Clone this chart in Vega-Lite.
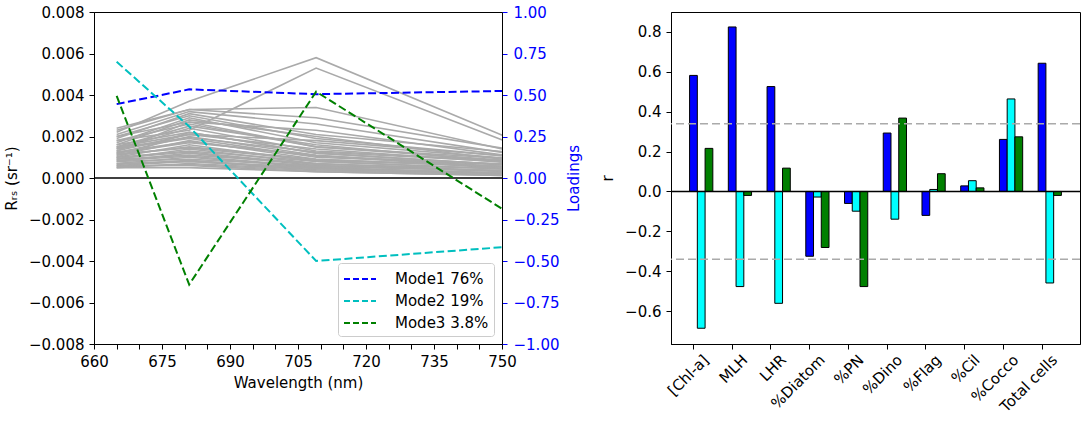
{
  "$schema": "https://vega.github.io/schema/vega-lite/v6.json",
  "padding": {"left": 3, "top": 4, "right": 5, "bottom": 0},
  "background": "white",
  "config": {
    "font": "DejaVu Sans",
    "view": {"stroke": "black", "strokeWidth": 1},
    "axis": {
      "grid": false,
      "labelFontSize": 15,
      "titleFontSize": 15,
      "titleFontWeight": "normal",
      "labelColor": "black",
      "titleColor": "black",
      "domainColor": "black",
      "tickColor": "black",
      "tickSize": 5,
      "labelPadding": 5,
      "titlePadding": 9,
      "labelOverlap": false
    }
  },
  "datasets": {
    "spectra": [
      {"s": 1, "wl": 665, "r": 0.0022}, {"s": 1, "wl": 681, "r": 0.0037}, {"s": 1, "wl": 709, "r": 0.0058}, {"s": 1, "wl": 754, "r": 0.0017},
      {"s": 2, "wl": 665, "r": 0.0018}, {"s": 2, "wl": 681, "r": 0.0023}, {"s": 2, "wl": 709, "r": 0.0053}, {"s": 2, "wl": 754, "r": 0.0015},
      {"s": 3, "wl": 665, "r": 0.0023}, {"s": 3, "wl": 681, "r": 0.0033}, {"s": 3, "wl": 709, "r": 0.0034}, {"s": 3, "wl": 754, "r": 0.0012},
      {"s": 4, "wl": 665, "r": 0.0024}, {"s": 4, "wl": 681, "r": 0.0033}, {"s": 4, "wl": 709, "r": 0.0029}, {"s": 4, "wl": 754, "r": 0.0013},
      {"s": 5, "wl": 665, "r": 0.0021}, {"s": 5, "wl": 681, "r": 0.0032}, {"s": 5, "wl": 709, "r": 0.0026}, {"s": 5, "wl": 754, "r": 0.0011},
      {"s": 6, "wl": 665, "r": 0.0019}, {"s": 6, "wl": 681, "r": 0.0031}, {"s": 6, "wl": 709, "r": 0.0021}, {"s": 6, "wl": 754, "r": 0.0012},
      {"s": 7, "wl": 665, "r": 0.0020}, {"s": 7, "wl": 681, "r": 0.0030}, {"s": 7, "wl": 709, "r": 0.0019}, {"s": 7, "wl": 754, "r": 0.0010},
      {"s": 8, "wl": 665, "r": 0.0017}, {"s": 8, "wl": 681, "r": 0.0029}, {"s": 8, "wl": 709, "r": 0.0017}, {"s": 8, "wl": 754, "r": 0.0009},
      {"s": 9, "wl": 665, "r": 0.0016}, {"s": 9, "wl": 681, "r": 0.0028}, {"s": 9, "wl": 709, "r": 0.0020}, {"s": 9, "wl": 754, "r": 0.0008},
      {"s": 10, "wl": 665, "r": 0.0018}, {"s": 10, "wl": 681, "r": 0.0026}, {"s": 10, "wl": 709, "r": 0.0015}, {"s": 10, "wl": 754, "r": 0.0009},
      {"s": 11, "wl": 665, "r": 0.0015}, {"s": 11, "wl": 681, "r": 0.0025}, {"s": 11, "wl": 709, "r": 0.0016}, {"s": 11, "wl": 754, "r": 0.0007},
      {"s": 12, "wl": 665, "r": 0.0014}, {"s": 12, "wl": 681, "r": 0.0024}, {"s": 12, "wl": 709, "r": 0.0013}, {"s": 12, "wl": 754, "r": 0.0008},
      {"s": 13, "wl": 665, "r": 0.0016}, {"s": 13, "wl": 681, "r": 0.0022}, {"s": 13, "wl": 709, "r": 0.0012}, {"s": 13, "wl": 754, "r": 0.0006},
      {"s": 14, "wl": 665, "r": 0.0013}, {"s": 14, "wl": 681, "r": 0.0021}, {"s": 14, "wl": 709, "r": 0.0014}, {"s": 14, "wl": 754, "r": 0.0007},
      {"s": 15, "wl": 665, "r": 0.0012}, {"s": 15, "wl": 681, "r": 0.0020}, {"s": 15, "wl": 709, "r": 0.0011}, {"s": 15, "wl": 754, "r": 0.0005},
      {"s": 16, "wl": 665, "r": 0.0014}, {"s": 16, "wl": 681, "r": 0.0019}, {"s": 16, "wl": 709, "r": 0.0010}, {"s": 16, "wl": 754, "r": 0.0006},
      {"s": 17, "wl": 665, "r": 0.0011}, {"s": 17, "wl": 681, "r": 0.0018}, {"s": 17, "wl": 709, "r": 0.0009}, {"s": 17, "wl": 754, "r": 0.0005},
      {"s": 18, "wl": 665, "r": 0.0012}, {"s": 18, "wl": 681, "r": 0.0017}, {"s": 18, "wl": 709, "r": 0.0011}, {"s": 18, "wl": 754, "r": 0.0004},
      {"s": 19, "wl": 665, "r": 0.0010}, {"s": 19, "wl": 681, "r": 0.0016}, {"s": 19, "wl": 709, "r": 0.0008}, {"s": 19, "wl": 754, "r": 0.0004},
      {"s": 20, "wl": 665, "r": 0.0011}, {"s": 20, "wl": 681, "r": 0.0015}, {"s": 20, "wl": 709, "r": 0.0009}, {"s": 20, "wl": 754, "r": 0.0005},
      {"s": 21, "wl": 665, "r": 0.0009}, {"s": 21, "wl": 681, "r": 0.0014}, {"s": 21, "wl": 709, "r": 0.0007}, {"s": 21, "wl": 754, "r": 0.0003},
      {"s": 22, "wl": 665, "r": 0.0010}, {"s": 22, "wl": 681, "r": 0.0013}, {"s": 22, "wl": 709, "r": 0.0008}, {"s": 22, "wl": 754, "r": 0.0004},
      {"s": 23, "wl": 665, "r": 0.0008}, {"s": 23, "wl": 681, "r": 0.0012}, {"s": 23, "wl": 709, "r": 0.0006}, {"s": 23, "wl": 754, "r": 0.0003},
      {"s": 24, "wl": 665, "r": 0.0009}, {"s": 24, "wl": 681, "r": 0.0011}, {"s": 24, "wl": 709, "r": 0.0007}, {"s": 24, "wl": 754, "r": 0.0003},
      {"s": 25, "wl": 665, "r": 0.0007}, {"s": 25, "wl": 681, "r": 0.0010}, {"s": 25, "wl": 709, "r": 0.0005}, {"s": 25, "wl": 754, "r": 0.0002},
      {"s": 26, "wl": 665, "r": 0.0008}, {"s": 26, "wl": 681, "r": 0.0009}, {"s": 26, "wl": 709, "r": 0.0006}, {"s": 26, "wl": 754, "r": 0.0003},
      {"s": 27, "wl": 665, "r": 0.0006}, {"s": 27, "wl": 681, "r": 0.0008}, {"s": 27, "wl": 709, "r": 0.0004}, {"s": 27, "wl": 754, "r": 0.0002},
      {"s": 28, "wl": 665, "r": 0.0007}, {"s": 28, "wl": 681, "r": 0.0008}, {"s": 28, "wl": 709, "r": 0.0005}, {"s": 28, "wl": 754, "r": 0.0002},
      {"s": 29, "wl": 665, "r": 0.0005}, {"s": 29, "wl": 681, "r": 0.0007}, {"s": 29, "wl": 709, "r": 0.0004}, {"s": 29, "wl": 754, "r": 0.0002},
      {"s": 30, "wl": 665, "r": 0.0006}, {"s": 30, "wl": 681, "r": 0.0006}, {"s": 30, "wl": 709, "r": 0.0003}, {"s": 30, "wl": 754, "r": 0.0001},
      {"s": 31, "wl": 665, "r": 0.0005}, {"s": 31, "wl": 681, "r": 0.0005}, {"s": 31, "wl": 709, "r": 0.0003}, {"s": 31, "wl": 754, "r": 0.0001},
      {"s": 32, "wl": 665, "r": 0.0015}, {"s": 32, "wl": 681, "r": 0.0021}, {"s": 32, "wl": 709, "r": 0.0018}, {"s": 32, "wl": 754, "r": 0.0010},
      {"s": 33, "wl": 665, "r": 0.0013}, {"s": 33, "wl": 681, "r": 0.0027}, {"s": 33, "wl": 709, "r": 0.0015}, {"s": 33, "wl": 754, "r": 0.0008},
      {"s": 34, "wl": 665, "r": 0.0010}, {"s": 34, "wl": 681, "r": 0.0022}, {"s": 34, "wl": 709, "r": 0.0012}, {"s": 34, "wl": 754, "r": 0.0006},
      {"s": 35, "wl": 665, "r": 0.0020}, {"s": 35, "wl": 681, "r": 0.0027}, {"s": 35, "wl": 709, "r": 0.0023}, {"s": 35, "wl": 754, "r": 0.0010},
      {"s": 36, "wl": 665, "r": 0.00055}, {"s": 36, "wl": 681, "r": 0.00065}, {"s": 36, "wl": 709, "r": 0.00035}, {"s": 36, "wl": 754, "r": 0.00015},
      {"s": 37, "wl": 665, "r": 0.00065}, {"s": 37, "wl": 681, "r": 0.00085}, {"s": 37, "wl": 709, "r": 0.00045}, {"s": 37, "wl": 754, "r": 0.00025},
      {"s": 38, "wl": 665, "r": 0.00085}, {"s": 38, "wl": 681, "r": 0.00105}, {"s": 38, "wl": 709, "r": 0.00055}, {"s": 38, "wl": 754, "r": 0.00035},
      {"s": 39, "wl": 665, "r": 0.00095}, {"s": 39, "wl": 681, "r": 0.00125}, {"s": 39, "wl": 709, "r": 0.00065}, {"s": 39, "wl": 754, "r": 0.00045},
      {"s": 40, "wl": 665, "r": 0.00115}, {"s": 40, "wl": 681, "r": 0.00145}, {"s": 40, "wl": 709, "r": 0.00085}, {"s": 40, "wl": 754, "r": 0.00055},
      {"s": 41, "wl": 665, "r": 0.00125}, {"s": 41, "wl": 681, "r": 0.00175}, {"s": 41, "wl": 709, "r": 0.00105}, {"s": 41, "wl": 754, "r": 0.00065},
      {"s": 42, "wl": 665, "r": 0.00145}, {"s": 42, "wl": 681, "r": 0.00195}, {"s": 42, "wl": 709, "r": 0.00125}, {"s": 42, "wl": 754, "r": 0.00075}
    ],
    "modes": [
      {"mode": "Mode1 76%", "wl": 665, "loading": 0.445},
      {"mode": "Mode1 76%", "wl": 681, "loading": 0.534},
      {"mode": "Mode1 76%", "wl": 709, "loading": 0.505},
      {"mode": "Mode1 76%", "wl": 754, "loading": 0.526},
      {"mode": "Mode2 19%", "wl": 665, "loading": 0.70},
      {"mode": "Mode2 19%", "wl": 681, "loading": 0.31},
      {"mode": "Mode2 19%", "wl": 709, "loading": -0.50},
      {"mode": "Mode2 19%", "wl": 754, "loading": -0.409},
      {"mode": "Mode3 3.8%", "wl": 665, "loading": 0.495},
      {"mode": "Mode3 3.8%", "wl": 681, "loading": -0.642},
      {"mode": "Mode3 3.8%", "wl": 709, "loading": 0.52},
      {"mode": "Mode3 3.8%", "wl": 754, "loading": -0.254}
    ],
    "corr": [
      {"var": "[Chl-a]", "mode": "Mode1", "r": 0.582},
      {"var": "[Chl-a]", "mode": "Mode2", "r": -0.686},
      {"var": "[Chl-a]", "mode": "Mode3", "r": 0.216},
      {"var": "MLH", "mode": "Mode1", "r": 0.825},
      {"var": "MLH", "mode": "Mode2", "r": -0.477},
      {"var": "MLH", "mode": "Mode3", "r": -0.02},
      {"var": "LHR", "mode": "Mode1", "r": 0.526},
      {"var": "LHR", "mode": "Mode2", "r": -0.561},
      {"var": "LHR", "mode": "Mode3", "r": 0.117},
      {"var": "%Diatom", "mode": "Mode1", "r": -0.325},
      {"var": "%Diatom", "mode": "Mode2", "r": -0.028},
      {"var": "%Diatom", "mode": "Mode3", "r": -0.281},
      {"var": "%PN", "mode": "Mode1", "r": -0.06},
      {"var": "%PN", "mode": "Mode2", "r": -0.099},
      {"var": "%PN", "mode": "Mode3", "r": -0.477},
      {"var": "%Dino", "mode": "Mode1", "r": 0.293},
      {"var": "%Dino", "mode": "Mode2", "r": -0.139},
      {"var": "%Dino", "mode": "Mode3", "r": 0.368},
      {"var": "%Flag", "mode": "Mode1", "r": -0.12},
      {"var": "%Flag", "mode": "Mode2", "r": 0.01},
      {"var": "%Flag", "mode": "Mode3", "r": 0.089},
      {"var": "%Cil", "mode": "Mode1", "r": 0.028},
      {"var": "%Cil", "mode": "Mode2", "r": 0.054},
      {"var": "%Cil", "mode": "Mode3", "r": 0.018},
      {"var": "%Cocco", "mode": "Mode1", "r": 0.261},
      {"var": "%Cocco", "mode": "Mode2", "r": 0.464},
      {"var": "%Cocco", "mode": "Mode3", "r": 0.274},
      {"var": "Total cells", "mode": "Mode1", "r": 0.643},
      {"var": "Total cells", "mode": "Mode2", "r": -0.459},
      {"var": "Total cells", "mode": "Mode3", "r": -0.02}
    ]
  },
  "spacing": 17,
  "resolve": {"scale": {"x": "independent", "y": "independent", "color": "independent"}, "legend": {"color": "independent"}},
  "hconcat": [
    {
      "width": 408,
      "height": 332,
      "layer": [
        {
          "layer": [
            {
              "data": {"name": "spectra"},
              "mark": {"type": "line", "color": "#aaaaaa", "strokeWidth": 1.6, "clip": true},
              "encoding": {
                "x": {
                  "field": "wl",
                  "type": "quantitative",
                  "scale": {"domain": [660, 750], "nice": false, "zero": false},
                  "axis": {
                    "title": "Wavelength (nm)",
                    "values": [660, 665, 670, 675, 680, 685, 690, 695, 700, 705, 710, 715, 720, 725, 730, 735, 740, 745, 750],
                    "labelExpr": "indexof([660, 675, 690, 705, 720, 735, 750], datum.value) >= 0 ? datum.label : ''",
                    "labelOverlap": false,
                    "labelFlush": false,
                    "titlePadding": 6
                  }
                },
                "y": {
                  "field": "r",
                  "type": "quantitative",
                  "scale": {"domain": [-0.008, 0.008], "nice": false},
                  "axis": {
                    "title": "Rᵣₛ (sr⁻¹)",
                    "values": [-0.008, -0.006, -0.004, -0.002, 0, 0.002, 0.004, 0.006, 0.008],
                    "format": ".3f"
                  }
                },
                "detail": {"field": "s", "type": "nominal"}
              }
            },
            {
              "data": {"values": [{"r": 0}]},
              "mark": {"type": "rule", "color": "black", "strokeWidth": 1.5},
              "encoding": {"y": {"field": "r", "type": "quantitative"}}
            }
          ]
        },
        {
          "data": {"name": "modes"},
          "mark": {"type": "line", "strokeWidth": 2, "strokeDash": [8, 3.5], "clip": true},
          "encoding": {
            "x": {
              "field": "wl",
              "type": "quantitative",
              "axis": {
                "title": "Wavelength (nm)",
                "values": [660, 665, 670, 675, 680, 685, 690, 695, 700, 705, 710, 715, 720, 725, 730, 735, 740, 745, 750],
                "labelExpr": "indexof([660, 675, 690, 705, 720, 735, 750], datum.value) >= 0 ? datum.label : ''",
                "labelOverlap": false,
                "labelFlush": false,
                "titlePadding": 6
              }
            },
            "y": {
              "field": "loading",
              "type": "quantitative",
              "scale": {"domain": [-1, 1], "nice": false},
              "axis": {
                "orient": "right",
                "title": "Loadings",
                "titleAngle": 270,
                "titleBaseline": "top",
                "titlePadding": 8,
                "labelPadding": 6,
                "values": [-1, -0.75, -0.5, -0.25, 0, 0.25, 0.5, 0.75, 1],
                "format": ".2f",
                "labelColor": "blue",
                "titleColor": "blue",
                "tickColor": "blue"
              }
            },
            "color": {
              "field": "mode",
              "type": "nominal",
              "scale": {"domain": ["Mode1 76%", "Mode2 19%", "Mode3 3.8%"], "range": ["#0000ff", "#00bfbf", "#008000"]},
              "legend": {
                "title": null,
                "orient": "bottom-right",
                "offset": 8,
                "padding": 5,
                "strokeColor": "#cccccc",
                "fillColor": "white",
                "cornerRadius": 3,
                "labelFontSize": 15,
                "labelColor": "black",
                "labelOffset": 24,
                "rowPadding": 3,
                "symbolType": "M-1.6,0H1.6",
                "symbolSize": 400,
                "symbolOffset": 6,
                "symbolStrokeWidth": 2,
                "symbolFillColor": "transparent",
                "symbolDash": [6, 3]
              }
            }
          }
        }
      ],
      "resolve": {"scale": {"y": "independent"}}
    },
    {
      "width": 409,
      "height": 332,
      "layer": [
        {
          "data": {"name": "corr"},
          "mark": {"type": "bar", "stroke": "black", "strokeWidth": 1},
          "encoding": {
            "x": {
              "field": "var",
              "type": "nominal",
              "sort": ["[Chl-a]", "MLH", "LHR", "%Diatom", "%PN", "%Dino", "%Flag", "%Cil", "%Cocco", "Total cells"],
              "scale": {"paddingInner": 0.4, "paddingOuter": 0.48},
              "axis": {"title": null, "labelAngle": -45, "bandPosition": 0.1667, "labelPadding": 3}
            },
            "xOffset": {
              "field": "mode",
              "type": "nominal",
              "sort": ["Mode1", "Mode2", "Mode3"],
              "scale": {"paddingInner": 0, "paddingOuter": 0}
            },
            "y": {
              "field": "r",
              "type": "quantitative",
              "scale": {"domain": [-0.765, 0.9], "nice": false, "zero": false},
              "axis": {"title": "r", "values": [-0.6, -0.4, -0.2, 0, 0.2, 0.4, 0.6, 0.8], "format": ".1f"}
            },
            "color": {
              "field": "mode",
              "type": "nominal",
              "scale": {"domain": ["Mode1", "Mode2", "Mode3"], "range": ["#0000ff", "#00ffff", "#008000"]},
              "legend": null
            }
          }
        },
        {
          "data": {"values": [{"r": 0.34}, {"r": -0.34}]},
          "mark": {"type": "rule", "color": "#aaaaaa", "strokeWidth": 1.5, "strokeDash": [8, 4]},
          "encoding": {"y": {"field": "r", "type": "quantitative"}}
        },
        {
          "data": {"values": [{"r": 0}]},
          "mark": {"type": "rule", "color": "black", "strokeWidth": 1.5},
          "encoding": {"y": {"field": "r", "type": "quantitative"}}
        }
      ]
    }
  ]
}
